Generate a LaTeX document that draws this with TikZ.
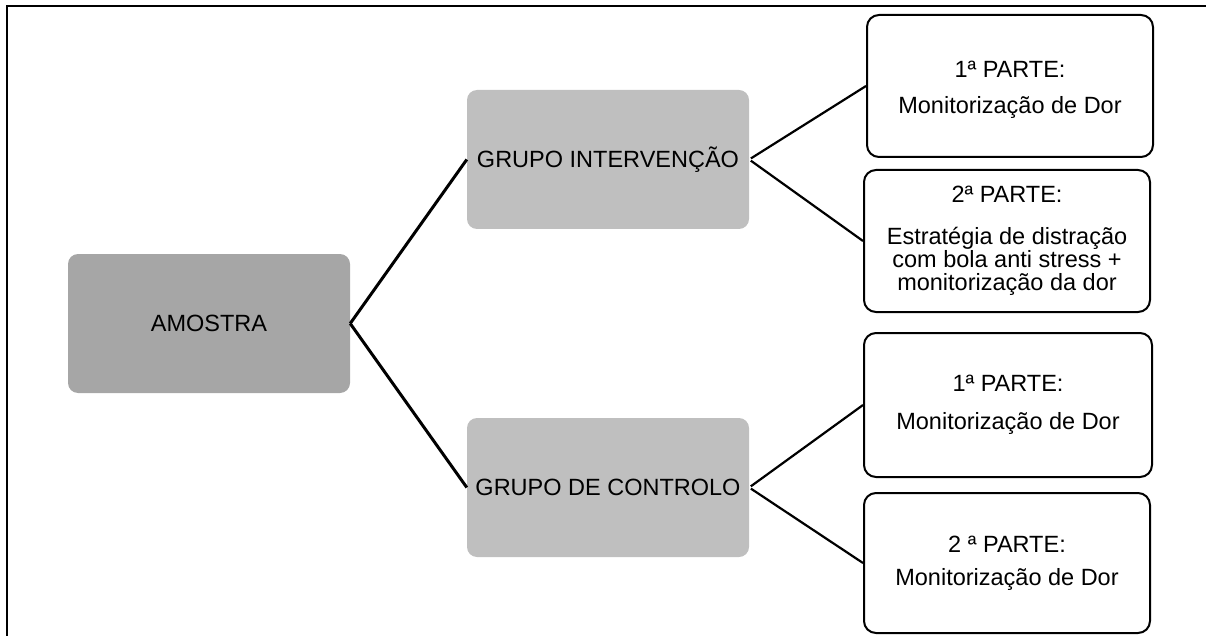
\documentclass[tikz,border=0pt]{standalone}
\usepackage{fontspec}
\setmainfont{Liberation Sans}
\begin{document}
\begin{tikzpicture}[x=1pt,y=-1pt,
  txt/.style={font=\fontsize{23.5}{23.3}\selectfont, align=center, text=black, inner sep=0pt},
  darkbox/.style={txt, rounded corners=10pt, fill=boxdark, draw=none},
  greybox/.style={txt, rounded corners=10pt, fill=boxlight, draw=none},
  partbox/.style={txt, rounded corners=12pt, fill=white, draw=black, line width=2pt},
  thick link/.style={draw=black, line width=3pt},
  thin link/.style={draw=black, line width=2.2pt, shorten <=2pt}]
\definecolor{boxdark}{HTML}{A6A6A6}
\definecolor{boxlight}{HTML}{BFBFBF}
\useasboundingbox (0,0) rectangle (1206,636);

% frame lines along the left and top edges
\draw[line width=2pt] (7,636) -- (7,6.3) -- (1206,6.3);

% main tree
\node[darkbox, minimum width=282pt, minimum height=139pt] (amostra) at (209,323.5) {AMOSTRA};
\node[greybox, minimum width=282pt, minimum height=139pt] (gi) at (608,159.5) {GRUPO INTERVENÇÃO};
\node[greybox, minimum width=282pt, minimum height=139pt] (gc) at (608,487.5) {GRUPO DE CONTROLO};

% parts of each group
\node[partbox, minimum width=286pt, minimum height=142pt] (p1) at (1010,86)
  {\rule{0pt}{24pt}1ª PARTE:\\[12.5pt]Monitorização de Dor};
\node[partbox, minimum width=286pt, minimum height=142pt] (p2) at (1007,241)
  {2ª PARTE:\\[18pt]Estratégia de distração\\com bola anti stress +\\monitorização da dor};
\node[partbox, minimum width=288pt, minimum height=144pt] (p3) at (1008,405)
  {1ª PARTE:\\[14.5pt]Monitorização de Dor};
\node[partbox, minimum width=286pt, minimum height=140pt] (p4) at (1007,563)
  {2 ª PARTE:\\[9.5pt]Monitorização de Dor};

% connectors
\draw[thick link] (amostra.east) -- (gi.west);
\draw[thick link] (amostra.east) -- (gc.west);
\draw[thin link] (gi.east) -- (p1.west);
\draw[thin link] (gi.east) -- (p2.west);
\draw[thin link] (gc.east) -- (p3.west);
\draw[thin link] (gc.east) -- (p4.west);
\end{tikzpicture}
\end{document}
